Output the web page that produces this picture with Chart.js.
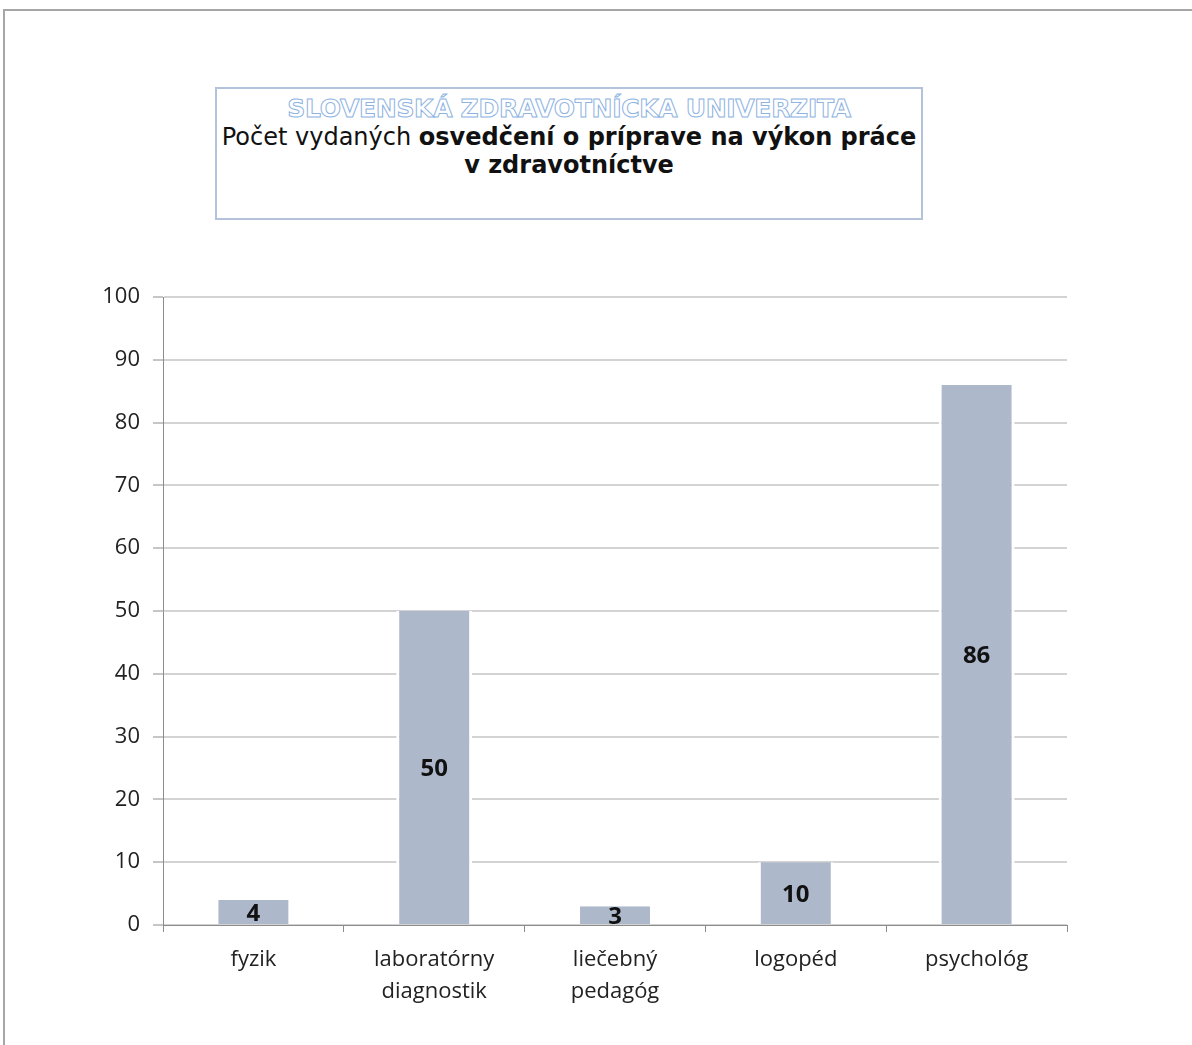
<!DOCTYPE html>
<html lang="sk">
<head>
<meta charset="UTF-8">
<title>Počet vydaných osvedčení</title>
<style>
body { margin: 0; background: #fff; }
.page { position: relative; width: 1192px; height: 1045px; overflow: hidden; }
.frame { position: absolute; left: 3px; top: 9px; right: -5px; bottom: -5px;
  border-top: 2px solid #a6a6a6; border-left: 2px solid #a6a6a6; }
.title-box { position: absolute; left: 215px; top: 87px; width: 704px; height: 129px;
  border: 2px solid #b4c2dc; text-align: center; font-family: "DejaVu Sans", Verdana, sans-serif; }
.uni { margin-top: 5px; font-size: 25px; line-height: 30px; font-weight: bold; color: #fff;
  -webkit-text-stroke: 1px #8db3e2; letter-spacing: -0.3px; }
.sub { font-size: 24px; line-height: 28px; color: #111; margin-top: -1px; }
canvas { position: absolute; left: 0; top: 0; }
</style>
</head>
<body>
<div class="page">
  <div class="frame"></div>
  <div class="title-box">
    <div class="uni">SLOVENSKÁ ZDRAVOTNÍCKA UNIVERZITA</div>
    <div class="sub">Počet vydaných <b>osvedčení o príprave na výkon práce<br>v zdravotníctve</b></div>
  </div>
  <canvas id="chart" width="1192" height="1045"></canvas>
</div>

<script src="https://cdn.jsdelivr.net/npm/chart.js"></script>
<script>
// hodnoty z grafu
const categories = [['fyzik'], ['laboratórny', 'diagnostik'], ['liečebný', 'pedagóg'], ['logopéd'], ['psychológ']];
const values = [4, 50, 3, 10, 86];
const yTicks = [0, 10, 20, 30, 40, 50, 60, 70, 80, 90, 100];

// cislo v strede stlpca
const barLabels = {
  id: 'barLabels',
  afterDatasetsDraw(chart) {
    const ctx = chart.ctx;
    const meta = chart.getDatasetMeta(0);
    ctx.save();
    ctx.font = 'bold 24px "Open Sans", sans-serif';
    ctx.fillStyle = '#111';
    ctx.textAlign = 'center';
    ctx.textBaseline = 'middle';
    meta.data.forEach((bar, i) => {
      const mid = (bar.y + bar.base) / 2;
      ctx.fillText(values[i], bar.x, mid + 2);
    });
    ctx.restore();
  }
};

new Chart(document.getElementById('chart'), {
  type: 'bar',
  data: {
    labels: categories,
    datasets: [{
      data: values,
      backgroundColor: '#adb8cb',
      borderColor: '#ffffff',
      borderWidth: { top: 0, left: 3, right: 3, bottom: 0 },
      borderSkipped: false,
      barPercentage: 0.42,
      categoryPercentage: 1
    }]
  },
  options: {
    responsive: false,
    animation: false,
    layout: { padding: { left: 0, top: 297, right: 125, bottom: 0 } },
    plugins: { legend: { display: false }, tooltip: { enabled: false }, title: { display: false } },
    scales: {
      x: {
        offset: true,
        grid: { offset: true, drawOnChartArea: false, drawTicks: true, tickLength: 7, color: '#8c8c8c' },
        border: { color: '#8c8c8c', width: 1 },
        ticks: { color: '#222', font: { family: '"Open Sans", sans-serif', size: 22, lineHeight: 1.45 }, padding: 12, maxRotation: 0 },
        afterFit(scale) { scale.height = 120; }
      },
      y: {
        min: 0, max: 100,
        afterBuildTicks(scale) { scale.ticks = yTicks.map(v => ({ value: v })); },
        grid: { color: '#d3d3d3', lineWidth: 2, tickColor: '#8c8c8c', tickLength: 10, tickWidth: 1 },
        border: { color: '#8c8c8c', width: 1 },
        ticks: { color: '#222', font: { family: '"Open Sans", sans-serif', size: 22 }, padding: 13 },
        afterFit(scale) { scale.width = 163; }
      }
    }
  },
  plugins: [barLabels]
});
</script>
</body>
</html>
